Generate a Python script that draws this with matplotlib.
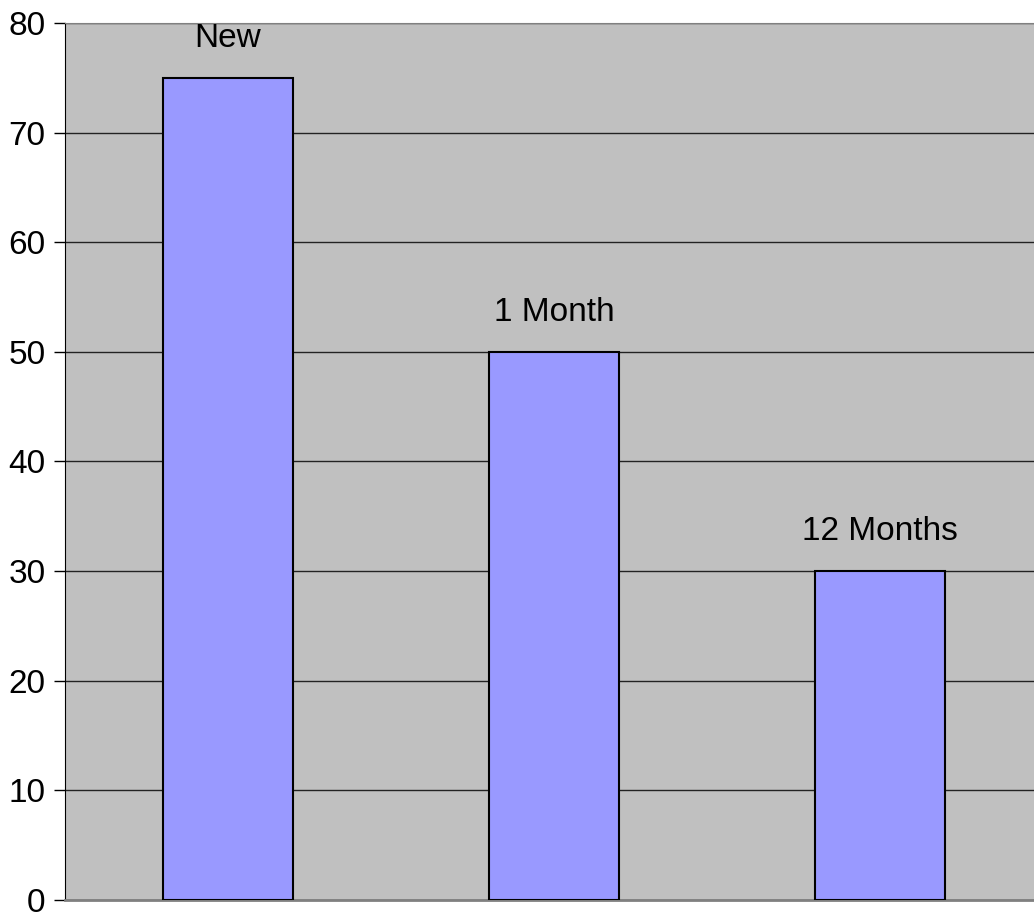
import matplotlib

matplotlib.use("Agg")
import matplotlib.pyplot as plt

categories = ["New", "1 Month", "12 Months"]
values = [75, 50, 30]
y_ticks = [0, 10, 20, 30, 40, 50, 60, 70, 80]

plt.rcParams["font.family"] = ["Liberation Sans Narrow", "Liberation Sans", "DejaVu Sans"]

fig = plt.figure(figsize=(10.34, 9.16), dpi=100)
ax = fig.add_axes([0.0629, 0.0175, 0.9458, 0.9574])
ax.set_facecolor("#C0C0C0")

x = range(len(categories))
ax.bar(x, values, width=0.4, color="#9999FF", edgecolor="black", linewidth=1.5, zorder=3)

# category names sit above each bar
for i, (name, v) in enumerate(zip(categories, values)):
    ax.annotate(name, (i, v), xytext=(0, 17), textcoords="offset points",
                ha="center", va="bottom", fontsize=24)

ax.set_xlim(-0.5, 2.5)
ax.set_ylim(0, 80)
ax.set_yticks(y_ticks)
ax.set_yticklabels([str(t) for t in y_ticks], fontsize=24)
ax.set_xticks([])
ax.yaxis.grid(True, color="#222222", linewidth=1, zorder=1)
ax.tick_params(axis="y", length=8, width=1, pad=6)

ax.spines["left"].set_color("black")
ax.spines["top"].set_color("#808080")
ax.spines["bottom"].set_color("#808080")
ax.spines["bottom"].set_linewidth(2)
ax.spines["right"].set_visible(False)

fig.savefig("out.png", dpi=100)
